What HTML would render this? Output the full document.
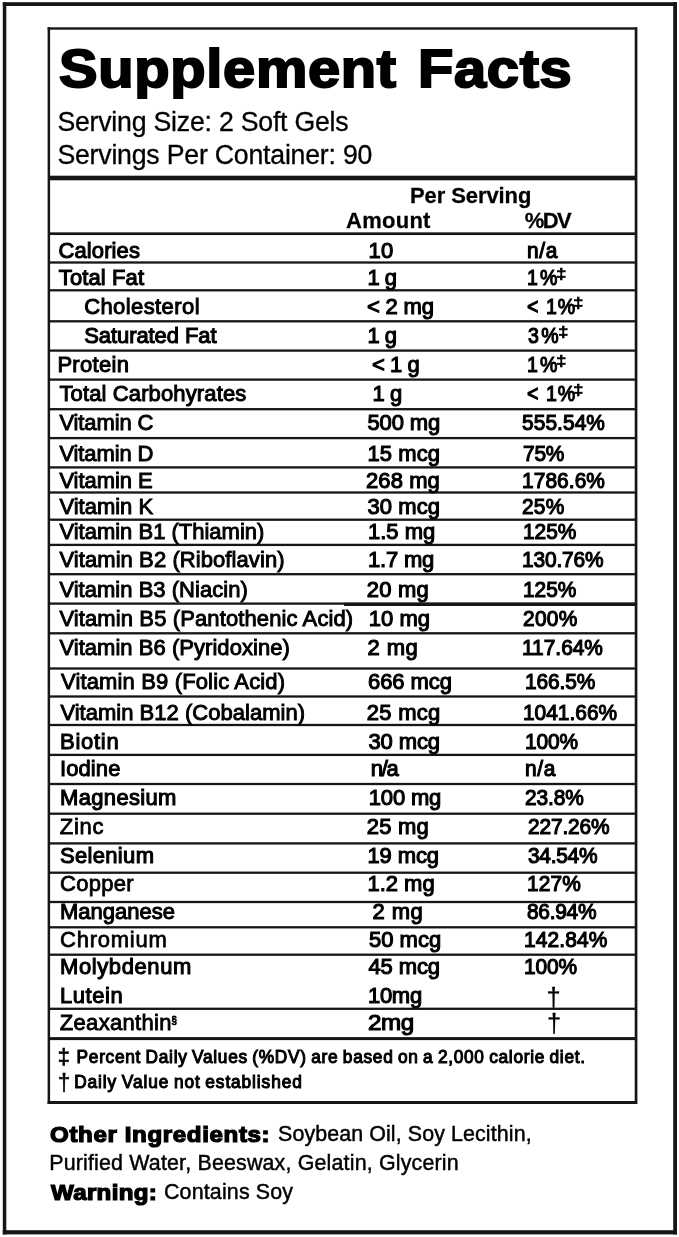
<!DOCTYPE html>
<html lang="en"><head><meta charset="utf-8"><title>Supplement Facts</title>
<style>
html,body{margin:0;padding:0;background:#fff;}
body{filter:blur(0.45px);width:679px;height:1237px;position:relative;overflow:hidden;font-family:"Liberation Sans",Arial,Helvetica,sans-serif;color:#000;}
main,header,section,div,p{margin:0;padding:0;position:static;}
.t{position:absolute;white-space:pre;line-height:1;display:block;}
.ln{position:absolute;left:0;top:0;fill:#161616;shape-rendering:geometricPrecision;}
.dd{font-size:64%;position:relative;top:-0.46em;letter-spacing:0;margin-left:-3px;display:inline-block;transform:scaleX(1.45);transform-origin:0 50%;-webkit-text-stroke:0.7px #000;}
.ss{font-size:44%;position:relative;top:-0.62em;letter-spacing:0;margin-left:-0.3px;}
</style></head>
<body>
<main class="label">
<svg class="ln" width="679" height="1237" viewBox="0 0 679 1237" aria-hidden="true"><rect x="2.80" y="2.20" width="674.20" height="3.80"/><rect x="2.80" y="1230.20" width="674.20" height="4.20"/><rect x="2.80" y="2.20" width="3.50" height="1232.20"/><rect x="673.20" y="2.20" width="3.80" height="1232.20"/><rect x="47.60" y="27.30" width="589.40" height="2.40"/><rect x="47.60" y="1101.00" width="589.40" height="3.00"/><rect x="47.60" y="27.30" width="2.50" height="1076.70"/><rect x="634.70" y="27.30" width="2.70" height="1076.70"/><rect x="49.00" y="175.70" width="587.00" height="4.60"/><rect x="49.00" y="232.35" width="587.00" height="2.70"/><rect x="49.00" y="261.35" width="587.00" height="2.30"/><rect x="49.00" y="289.15" width="587.00" height="2.30"/><rect x="49.00" y="320.15" width="587.00" height="2.30"/><rect x="49.00" y="349.45" width="587.00" height="2.30"/><rect x="49.00" y="378.45" width="587.00" height="2.30"/><rect x="49.00" y="408.05" width="587.00" height="2.30"/><rect x="49.00" y="436.95" width="587.00" height="2.30"/><rect x="49.00" y="466.25" width="587.00" height="2.30"/><rect x="49.00" y="491.35" width="587.00" height="2.30"/><rect x="49.00" y="518.55" width="587.00" height="2.30"/><rect x="49.00" y="543.75" width="587.00" height="2.30"/><rect x="49.00" y="573.05" width="587.00" height="2.30"/><rect x="49.00" y="602.45" width="587.00" height="2.30"/><rect x="49.00" y="632.15" width="587.00" height="2.30"/><rect x="49.00" y="667.35" width="587.00" height="2.30"/><rect x="49.00" y="695.35" width="587.00" height="2.30"/><rect x="49.00" y="723.85" width="587.00" height="2.30"/><rect x="49.00" y="753.75" width="587.00" height="2.30"/><rect x="49.00" y="782.85" width="587.00" height="2.30"/><rect x="49.00" y="812.55" width="587.00" height="2.30"/><rect x="49.00" y="842.25" width="587.00" height="2.30"/><rect x="49.00" y="871.55" width="587.00" height="2.30"/><rect x="49.00" y="900.85" width="587.00" height="2.30"/><rect x="49.00" y="926.15" width="587.00" height="2.30"/><rect x="49.00" y="953.55" width="587.00" height="2.30"/><rect x="49.00" y="1007.65" width="587.00" height="2.30"/><rect x="49.00" y="1037.10" width="587.00" height="3.00"/><rect x="344.00" y="602.80" width="292.00" height="3.20"/></svg>
<header class="hd">
<span class="t" style="left:59.20px;top:42.44px;font-size:53px;letter-spacing:0.661px;font-weight:700;-webkit-text-stroke:2.0px #000;transform:scale(1.09,1.0);transform-origin:0 44.86px;word-spacing:4px;">Supplement Facts</span>
<span class="t" style="left:57.40px;top:109.00px;font-size:26.7px;letter-spacing:-0.225px;-webkit-text-stroke:0.3px #000;transform:scale(1.0,1.0412);transform-origin:0 22.60px;">Serving Size: 2 Soft Gels</span>
<span class="t" style="left:57.40px;top:141.70px;font-size:26.7px;letter-spacing:-0.216px;-webkit-text-stroke:0.3px #000;transform:scale(1.0,1.0412);transform-origin:0 22.60px;">Servings Per Container: 90</span>
</header>
<section class="facts">
<div class="thead">
<span class="t" style="left:410.00px;top:184.68px;font-size:22.0px;letter-spacing:-0.090px;font-weight:700;-webkit-text-stroke:0.25px #000;transform:scale(1.0,1.0412);transform-origin:0 18.62px;">Per Serving</span>
<span class="t" style="left:346.00px;top:210.38px;font-size:22.0px;letter-spacing:0.270px;font-weight:700;-webkit-text-stroke:0.25px #000;transform:scale(1.0,1.0412);transform-origin:0 18.62px;">Amount</span>
<span class="t" style="left:524.80px;top:210.18px;font-size:22.0px;letter-spacing:-1.575px;font-weight:700;-webkit-text-stroke:0.25px #000;transform:scale(1.0,1.0412);transform-origin:0 18.62px;">%DV</span>
</div>
<div class="row">
<span class="t" style="left:58.40px;top:239.98px;font-size:22.0px;letter-spacing:0.129px;-webkit-text-stroke:1.05px #000;transform:scale(1.0,1.0412);transform-origin:0 18.62px;">Calories</span>
<span class="t" style="left:368.40px;top:239.98px;font-size:22.0px;letter-spacing:0.450px;-webkit-text-stroke:1.1px #000;transform:scale(1.0,1.0412);transform-origin:0 18.62px;">10</span>
<span class="t" style="left:526.80px;top:239.98px;font-size:22.0px;letter-spacing:0.711px;-webkit-text-stroke:1.15px #000;transform:scale(0.95,1.0412);transform-origin:0 18.62px;">n/a</span>
</div>
<div class="row">
<span class="t" style="left:58.80px;top:266.78px;font-size:22.0px;letter-spacing:0.113px;-webkit-text-stroke:1.1px #000;transform:scale(1.0,1.0412);transform-origin:0 18.62px;">Total Fat</span>
<span class="t" style="left:367.40px;top:266.78px;font-size:22.0px;letter-spacing:-0.450px;-webkit-text-stroke:1.1px #000;transform:scale(1.0,1.0412);transform-origin:0 18.62px;">1 g</span>
<span class="t" style="left:527.40px;top:266.78px;font-size:22.0px;letter-spacing:2.275px;-webkit-text-stroke:1.15px #000;transform:scale(0.89,1.0412);transform-origin:0 18.62px;">1%<span class="dd">‡</span></span>
</div>
<div class="row">
<span class="t" style="left:84.20px;top:296.18px;font-size:22.0px;letter-spacing:0.405px;-webkit-text-stroke:1.0px #000;transform:scale(1.0,1.0412);transform-origin:0 18.62px;">Cholesterol</span>
<span class="t" style="left:367.00px;top:296.18px;font-size:22.0px;letter-spacing:-0.180px;-webkit-text-stroke:1.1px #000;transform:scale(1.0,1.0412);transform-origin:0 18.62px;">&lt; 2 mg</span>
<span class="t" style="left:527.40px;top:296.18px;font-size:22.0px;letter-spacing:1.138px;-webkit-text-stroke:1.15px #000;transform:scale(0.89,1.0412);transform-origin:0 18.62px;">&lt; 1%<span class="dd">‡</span></span>
</div>
<div class="row">
<span class="t" style="left:84.20px;top:325.28px;font-size:22.0px;letter-spacing:-0.075px;-webkit-text-stroke:1.1px #000;transform:scale(1.0,1.0412);transform-origin:0 18.62px;">Saturated Fat</span>
<span class="t" style="left:367.40px;top:325.28px;font-size:22.0px;letter-spacing:-0.450px;-webkit-text-stroke:1.1px #000;transform:scale(1.0,1.0412);transform-origin:0 18.62px;">1 g</span>
<span class="t" style="left:527.80px;top:325.28px;font-size:22.0px;letter-spacing:2.528px;-webkit-text-stroke:1.15px #000;transform:scale(0.89,1.0412);transform-origin:0 18.62px;">3%<span class="dd">‡</span></span>
</div>
<div class="row">
<span class="t" style="left:57.40px;top:353.98px;font-size:22.0px;letter-spacing:0.300px;-webkit-text-stroke:1.0px #000;transform:scale(1.0,1.0412);transform-origin:0 18.62px;">Protein</span>
<span class="t" style="left:372.00px;top:353.98px;font-size:22.0px;letter-spacing:-0.450px;-webkit-text-stroke:1.1px #000;transform:scale(1.0,1.0412);transform-origin:0 18.62px;">&lt; 1 g</span>
<span class="t" style="left:527.40px;top:353.98px;font-size:22.0px;letter-spacing:2.275px;-webkit-text-stroke:1.15px #000;transform:scale(0.89,1.0412);transform-origin:0 18.62px;">1%<span class="dd">‡</span></span>
</div>
<div class="row">
<span class="t" style="left:59.40px;top:383.18px;font-size:22.0px;letter-spacing:0.132px;-webkit-text-stroke:1.0px #000;transform:scale(1.0,1.0412);transform-origin:0 18.62px;">Total Carbohyrates</span>
<span class="t" style="left:372.60px;top:383.18px;font-size:22.0px;letter-spacing:-0.450px;-webkit-text-stroke:1.1px #000;transform:scale(1.0,1.0412);transform-origin:0 18.62px;">1 g</span>
<span class="t" style="left:526.80px;top:383.18px;font-size:22.0px;letter-spacing:1.138px;-webkit-text-stroke:1.15px #000;transform:scale(0.89,1.0412);transform-origin:0 18.62px;">&lt; 1%<span class="dd">‡</span></span>
</div>
<div class="row">
<span class="t" style="left:59.40px;top:411.98px;font-size:22.0px;letter-spacing:-0.112px;-webkit-text-stroke:0.95px #000;transform:scale(1.0,1.0412);transform-origin:0 18.62px;">Vitamin C</span>
<span class="t" style="left:367.40px;top:411.98px;font-size:22.0px;letter-spacing:-0.090px;-webkit-text-stroke:1.1px #000;transform:scale(1.0,1.0412);transform-origin:0 18.62px;">500 mg</span>
<span class="t" style="left:522.20px;top:411.98px;font-size:22.0px;letter-spacing:0.079px;-webkit-text-stroke:1.15px #000;transform:scale(0.95,1.0412);transform-origin:0 18.62px;">555.54%</span>
</div>
<div class="row">
<span class="t" style="left:59.40px;top:443.48px;font-size:22.0px;letter-spacing:-0.112px;-webkit-text-stroke:0.95px #000;transform:scale(1.0,1.0412);transform-origin:0 18.62px;">Vitamin D</span>
<span class="t" style="left:367.40px;top:443.48px;font-size:22.0px;letter-spacing:0.090px;-webkit-text-stroke:1.1px #000;transform:scale(1.0,1.0412);transform-origin:0 18.62px;">15 mcg</span>
<span class="t" style="left:523.20px;top:443.48px;font-size:22.0px;letter-spacing:-0.237px;-webkit-text-stroke:1.15px #000;transform:scale(0.95,1.0412);transform-origin:0 18.62px;">75%</span>
</div>
<div class="row">
<span class="t" style="left:59.40px;top:470.38px;font-size:22.0px;letter-spacing:-0.056px;-webkit-text-stroke:0.95px #000;transform:scale(1.0,1.0412);transform-origin:0 18.62px;">Vitamin E</span>
<span class="t" style="left:366.00px;top:470.38px;font-size:22.0px;letter-spacing:0.090px;-webkit-text-stroke:1.1px #000;transform:scale(1.0,1.0412);transform-origin:0 18.62px;">268 mg</span>
<span class="t" style="left:522.20px;top:470.38px;font-size:22.0px;letter-spacing:0.079px;-webkit-text-stroke:1.15px #000;transform:scale(0.95,1.0412);transform-origin:0 18.62px;">1786.6%</span>
</div>
<div class="row">
<span class="t" style="left:59.40px;top:495.78px;font-size:22.0px;letter-spacing:0.000px;-webkit-text-stroke:0.95px #000;transform:scale(1.0,1.0412);transform-origin:0 18.62px;">Vitamin K</span>
<span class="t" style="left:367.40px;top:495.78px;font-size:22.0px;letter-spacing:0.090px;-webkit-text-stroke:1.1px #000;transform:scale(1.0,1.0412);transform-origin:0 18.62px;">30 mcg</span>
<span class="t" style="left:522.20px;top:495.78px;font-size:22.0px;letter-spacing:0.237px;-webkit-text-stroke:1.15px #000;transform:scale(0.95,1.0412);transform-origin:0 18.62px;">25%</span>
</div>
<div class="row">
<span class="t" style="left:59.40px;top:520.58px;font-size:22.0px;letter-spacing:0.000px;-webkit-text-stroke:0.95px #000;transform:scale(1.0,1.0412);transform-origin:0 18.62px;">Vitamin B1 (Thiamin)</span>
<span class="t" style="left:368.00px;top:520.58px;font-size:22.0px;letter-spacing:0.000px;-webkit-text-stroke:1.1px #000;transform:scale(1.0,1.0412);transform-origin:0 18.62px;">1.5 mg</span>
<span class="t" style="left:522.80px;top:520.58px;font-size:22.0px;letter-spacing:0.000px;-webkit-text-stroke:1.15px #000;transform:scale(0.95,1.0412);transform-origin:0 18.62px;">125%</span>
</div>
<div class="row">
<span class="t" style="left:59.40px;top:549.38px;font-size:22.0px;letter-spacing:0.082px;-webkit-text-stroke:0.95px #000;transform:scale(1.0,1.0412);transform-origin:0 18.62px;">Vitamin B2 (Riboflavin)</span>
<span class="t" style="left:368.00px;top:549.38px;font-size:22.0px;letter-spacing:-0.180px;-webkit-text-stroke:1.1px #000;transform:scale(1.0,1.0412);transform-origin:0 18.62px;">1.7 mg</span>
<span class="t" style="left:521.80px;top:549.38px;font-size:22.0px;letter-spacing:-0.158px;-webkit-text-stroke:1.15px #000;transform:scale(0.95,1.0412);transform-origin:0 18.62px;">130.76%</span>
</div>
<div class="row">
<span class="t" style="left:59.40px;top:578.68px;font-size:22.0px;letter-spacing:0.025px;-webkit-text-stroke:0.95px #000;transform:scale(1.0,1.0412);transform-origin:0 18.62px;">Vitamin B3 (Niacin)</span>
<span class="t" style="left:366.80px;top:578.68px;font-size:22.0px;letter-spacing:0.225px;-webkit-text-stroke:1.1px #000;transform:scale(1.0,1.0412);transform-origin:0 18.62px;">20 mg</span>
<span class="t" style="left:522.80px;top:578.68px;font-size:22.0px;letter-spacing:0.000px;-webkit-text-stroke:1.15px #000;transform:scale(0.95,1.0412);transform-origin:0 18.62px;">125%</span>
</div>
<div class="row">
<span class="t" style="left:59.40px;top:608.38px;font-size:22.0px;letter-spacing:0.113px;-webkit-text-stroke:0.95px #000;transform:scale(1.0,1.0412);transform-origin:0 18.62px;">Vitamin B5 (Pantothenic Acid)</span>
<span class="t" style="left:368.80px;top:608.38px;font-size:22.0px;letter-spacing:0.000px;-webkit-text-stroke:1.1px #000;transform:scale(1.0,1.0412);transform-origin:0 18.62px;">10 mg</span>
<span class="t" style="left:523.20px;top:608.38px;font-size:22.0px;letter-spacing:0.316px;-webkit-text-stroke:1.15px #000;transform:scale(0.95,1.0412);transform-origin:0 18.62px;">200%</span>
</div>
<div class="row">
<span class="t" style="left:59.40px;top:637.48px;font-size:22.0px;letter-spacing:0.041px;-webkit-text-stroke:0.95px #000;transform:scale(1.0,1.0412);transform-origin:0 18.62px;">Vitamin B6 (Pyridoxine)</span>
<span class="t" style="left:367.40px;top:637.48px;font-size:22.0px;letter-spacing:0.450px;-webkit-text-stroke:1.1px #000;transform:scale(1.0,1.0412);transform-origin:0 18.62px;">2 mg</span>
<span class="t" style="left:521.80px;top:637.48px;font-size:22.0px;letter-spacing:0.000px;-webkit-text-stroke:1.15px #000;transform:scale(0.95,1.0412);transform-origin:0 18.62px;">117.64%</span>
</div>
<div class="row">
<span class="t" style="left:61.00px;top:670.98px;font-size:22.0px;letter-spacing:0.143px;-webkit-text-stroke:0.95px #000;transform:scale(1.0,1.0412);transform-origin:0 18.62px;">Vitamin B9 (Folic Acid)</span>
<span class="t" style="left:368.00px;top:670.98px;font-size:22.0px;letter-spacing:-0.075px;-webkit-text-stroke:1.1px #000;transform:scale(1.0,1.0412);transform-origin:0 18.62px;">666 mcg</span>
<span class="t" style="left:525.40px;top:670.98px;font-size:22.0px;letter-spacing:-0.095px;-webkit-text-stroke:1.15px #000;transform:scale(0.95,1.0412);transform-origin:0 18.62px;">166.5%</span>
</div>
<div class="row">
<span class="t" style="left:60.40px;top:701.98px;font-size:22.0px;letter-spacing:0.020px;-webkit-text-stroke:0.95px #000;transform:scale(1.0,1.0412);transform-origin:0 18.62px;">Vitamin B12 (Cobalamin)</span>
<span class="t" style="left:366.80px;top:701.98px;font-size:22.0px;letter-spacing:0.270px;-webkit-text-stroke:1.1px #000;transform:scale(1.0,1.0412);transform-origin:0 18.62px;">25 mcg</span>
<span class="t" style="left:523.20px;top:701.98px;font-size:22.0px;letter-spacing:-0.000px;-webkit-text-stroke:1.15px #000;transform:scale(0.95,1.0412);transform-origin:0 18.62px;">1041.66%</span>
</div>
<div class="row">
<span class="t" style="left:60.00px;top:730.68px;font-size:22.0px;letter-spacing:0.720px;-webkit-text-stroke:1.05px #000;transform:scale(1.0,1.0412);transform-origin:0 18.62px;">Biotin</span>
<span class="t" style="left:368.40px;top:730.68px;font-size:22.0px;letter-spacing:-0.090px;-webkit-text-stroke:1.1px #000;transform:scale(1.0,1.0412);transform-origin:0 18.62px;">30 mcg</span>
<span class="t" style="left:524.80px;top:730.68px;font-size:22.0px;letter-spacing:-0.158px;-webkit-text-stroke:1.15px #000;transform:scale(0.95,1.0412);transform-origin:0 18.62px;">100%</span>
</div>
<div class="row">
<span class="t" style="left:60.00px;top:757.98px;font-size:22.0px;letter-spacing:0.090px;-webkit-text-stroke:1.0px #000;transform:scale(1.0,1.0412);transform-origin:0 18.62px;">Iodine</span>
<span class="t" style="left:370.80px;top:757.98px;font-size:22.0px;letter-spacing:-1.350px;-webkit-text-stroke:1.1px #000;transform:scale(1.0,1.0412);transform-origin:0 18.62px;">n/a</span>
<span class="t" style="left:524.80px;top:757.98px;font-size:22.0px;letter-spacing:0.711px;-webkit-text-stroke:1.15px #000;transform:scale(0.95,1.0412);transform-origin:0 18.62px;">n/a</span>
</div>
<div class="row">
<span class="t" style="left:60.00px;top:786.98px;font-size:22.0px;letter-spacing:0.338px;-webkit-text-stroke:1.1px #000;transform:scale(1.0,1.0412);transform-origin:0 18.62px;">Magnesium</span>
<span class="t" style="left:368.80px;top:786.98px;font-size:22.0px;letter-spacing:-0.180px;-webkit-text-stroke:1.1px #000;transform:scale(1.0,1.0412);transform-origin:0 18.62px;">100 mg</span>
<span class="t" style="left:525.20px;top:786.98px;font-size:22.0px;letter-spacing:-0.118px;-webkit-text-stroke:1.15px #000;transform:scale(0.95,1.0412);transform-origin:0 18.62px;">23.8%</span>
</div>
<div class="row">
<span class="t" style="left:59.80px;top:816.28px;font-size:22.0px;letter-spacing:0.750px;-webkit-text-stroke:0.8px #000;transform:scale(1.0,1.0412);transform-origin:0 18.62px;">Zinc</span>
<span class="t" style="left:366.80px;top:816.28px;font-size:22.0px;letter-spacing:0.225px;-webkit-text-stroke:1.1px #000;transform:scale(1.0,1.0412);transform-origin:0 18.62px;">25 mg</span>
<span class="t" style="left:528.00px;top:816.28px;font-size:22.0px;letter-spacing:-0.158px;-webkit-text-stroke:1.15px #000;transform:scale(0.95,1.0412);transform-origin:0 18.62px;">227.26%</span>
</div>
<div class="row">
<span class="t" style="left:60.00px;top:844.98px;font-size:22.0px;letter-spacing:0.321px;-webkit-text-stroke:1.1px #000;transform:scale(1.0,1.0412);transform-origin:0 18.62px;">Selenium</span>
<span class="t" style="left:367.40px;top:844.98px;font-size:22.0px;letter-spacing:-0.090px;-webkit-text-stroke:1.1px #000;transform:scale(1.0,1.0412);transform-origin:0 18.62px;">19 mcg</span>
<span class="t" style="left:527.80px;top:844.98px;font-size:22.0px;letter-spacing:-0.284px;-webkit-text-stroke:1.15px #000;transform:scale(0.95,1.0412);transform-origin:0 18.62px;">34.54%</span>
</div>
<div class="row">
<span class="t" style="left:60.00px;top:873.38px;font-size:22.0px;letter-spacing:0.270px;-webkit-text-stroke:0.8px #000;transform:scale(1.0,1.0412);transform-origin:0 18.62px;">Copper</span>
<span class="t" style="left:367.40px;top:873.38px;font-size:22.0px;letter-spacing:0.000px;-webkit-text-stroke:1.1px #000;transform:scale(1.0,1.0412);transform-origin:0 18.62px;">1.2 mg</span>
<span class="t" style="left:527.40px;top:873.38px;font-size:22.0px;letter-spacing:0.158px;-webkit-text-stroke:1.15px #000;transform:scale(0.95,1.0412);transform-origin:0 18.62px;">127%</span>
</div>
<div class="row">
<span class="t" style="left:60.00px;top:900.98px;font-size:22.0px;letter-spacing:0.000px;-webkit-text-stroke:1.05px #000;transform:scale(1.0,1.0412);transform-origin:0 18.62px;">Manganese</span>
<span class="t" style="left:372.60px;top:900.98px;font-size:22.0px;letter-spacing:0.450px;-webkit-text-stroke:1.1px #000;transform:scale(1.0,1.0412);transform-origin:0 18.62px;">2 mg</span>
<span class="t" style="left:526.80px;top:900.98px;font-size:22.0px;letter-spacing:-0.284px;-webkit-text-stroke:1.15px #000;transform:scale(0.95,1.0412);transform-origin:0 18.62px;">86.94%</span>
</div>
<div class="row">
<span class="t" style="left:60.00px;top:928.78px;font-size:22.0px;letter-spacing:0.771px;-webkit-text-stroke:0.75px #000;transform:scale(1.0,1.0412);transform-origin:0 18.62px;">Chromium</span>
<span class="t" style="left:369.00px;top:928.78px;font-size:22.0px;letter-spacing:0.000px;-webkit-text-stroke:1.1px #000;transform:scale(1.0,1.0412);transform-origin:0 18.62px;">50 mcg</span>
<span class="t" style="left:524.20px;top:928.78px;font-size:22.0px;letter-spacing:0.158px;-webkit-text-stroke:1.15px #000;transform:scale(0.95,1.0412);transform-origin:0 18.62px;">142.84%</span>
</div>
<div class="row">
<span class="t" style="left:60.00px;top:956.38px;font-size:22.0px;letter-spacing:0.600px;-webkit-text-stroke:1.05px #000;transform:scale(1.0,1.0412);transform-origin:0 18.62px;">Molybdenum</span>
<span class="t" style="left:368.40px;top:956.38px;font-size:22.0px;letter-spacing:-0.090px;-webkit-text-stroke:1.1px #000;transform:scale(1.0,1.0412);transform-origin:0 18.62px;">45 mcg</span>
<span class="t" style="left:524.20px;top:956.38px;font-size:22.0px;letter-spacing:-0.158px;-webkit-text-stroke:1.15px #000;transform:scale(0.95,1.0412);transform-origin:0 18.62px;">100%</span>
</div>
<div class="row">
<span class="t" style="left:60.00px;top:984.98px;font-size:22.0px;letter-spacing:0.540px;-webkit-text-stroke:1.05px #000;transform:scale(1.0,1.0412);transform-origin:0 18.62px;">Lutein</span>
<span class="t" style="left:368.00px;top:984.98px;font-size:22.0px;letter-spacing:-0.300px;-webkit-text-stroke:1.1px #000;transform:scale(1.0,1.0412);transform-origin:0 18.62px;">10mg</span>
<span class="t" style="left:546.40px;top:984.71px;font-size:25.5px;letter-spacing:0.000px;-webkit-text-stroke:0.3px #000;transform:scale(1.0,1.0412);transform-origin:0 21.59px;">†</span>
</div>
<div class="row">
<span class="t" style="left:59.80px;top:1011.88px;font-size:22.0px;letter-spacing:0.315px;-webkit-text-stroke:0.85px #000;transform:scale(1.0,1.0412);transform-origin:0 18.62px;">Zeaxanthin<span class="ss">§</span></span>
<span class="t" style="left:368.00px;top:1011.88px;font-size:22.0px;letter-spacing:-0.409px;-webkit-text-stroke:1.1px #000;transform:scale(1.1,1.0412);transform-origin:0 18.62px;">2mg</span>
<span class="t" style="left:547.00px;top:1010.51px;font-size:25.5px;letter-spacing:0.000px;-webkit-text-stroke:0.3px #000;transform:scale(1.0,1.0412);transform-origin:0 21.59px;">†</span>
</div>
</section>
<section class="notes">
<p class="note">
<span class="t" style="left:57.80px;top:1046.22px;font-size:21.6px;letter-spacing:0.000px;-webkit-text-stroke:0.7px #000;transform:scale(1.0,1.0412);transform-origin:0 18.28px;">‡</span>
<span class="t" style="left:76.60px;top:1048.56px;font-size:17.3px;letter-spacing:0.705px;-webkit-text-stroke:1.05px #000;transform:scale(1.0,1.0412);transform-origin:0 14.64px;word-spacing:-1px;">Percent Daily Values (%DV) are based on a 2,000 calorie diet.</span>
</p>
<p class="note">
<span class="t" style="left:57.80px;top:1072.07px;font-size:22.6px;letter-spacing:0.000px;-webkit-text-stroke:0.5px #000;transform:scale(1.0,1.0412);transform-origin:0 19.13px;">†</span>
<span class="t" style="left:74.20px;top:1074.06px;font-size:17.3px;letter-spacing:0.900px;-webkit-text-stroke:1.05px #000;transform:scale(1.0,1.0412);transform-origin:0 14.64px;word-spacing:-1px;">Daily Value not established</span>
</p>
</section>
<section class="other">
<p class="ing">
<span class="t" style="left:49.80px;top:1124.76px;font-size:20.6px;letter-spacing:0.543px;font-weight:700;-webkit-text-stroke:1.2px #000;transform:scale(1.17,1.0412);transform-origin:0 17.44px;">Other Ingredients:</span>
<span class="t" style="left:278.00px;top:1123.88px;font-size:21.4px;letter-spacing:0.108px;-webkit-text-stroke:0.45px #000;transform:scale(1.0,1.0412);transform-origin:0 18.12px;">Soybean Oil, Soy Lecithin,</span>
<span class="t" style="left:49.20px;top:1153.28px;font-size:21.4px;letter-spacing:0.176px;-webkit-text-stroke:0.45px #000;transform:scale(1.0,1.0412);transform-origin:0 18.12px;">Purified Water, Beeswax, Gelatin, Glycerin</span>
</p>
<p class="ing">
<span class="t" style="left:50.80px;top:1183.06px;font-size:20.6px;letter-spacing:0.275px;font-weight:700;-webkit-text-stroke:1.2px #000;transform:scale(1.17,1.0412);transform-origin:0 17.44px;">Warning:</span>
<span class="t" style="left:164.00px;top:1182.38px;font-size:21.4px;letter-spacing:0.164px;-webkit-text-stroke:0.45px #000;transform:scale(1.0,1.0412);transform-origin:0 18.12px;">Contains Soy</span>
</p>
</section>
</main>
</body></html>
